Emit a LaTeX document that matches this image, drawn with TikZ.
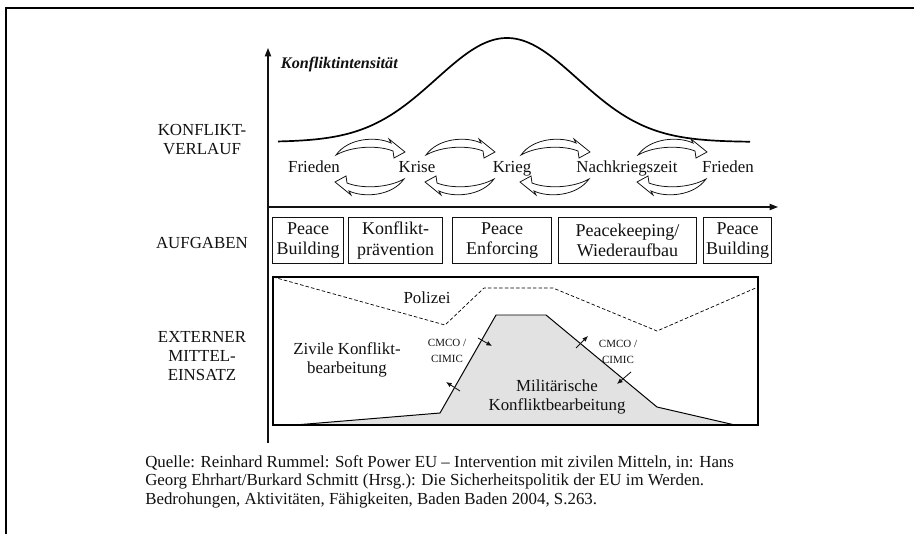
\documentclass[tikz,border=0pt]{standalone}
\usepackage{fontspec}
\setmainfont{Liberation Serif}
\usetikzlibrary{arrows.meta,positioning}
\definecolor{cmink}{HTML}{111111}
\definecolor{cmgray}{HTML}{E2E2E2}
\tikzset{
  cm text/.style={font=\fontsize{12}{14}\selectfont, text=cmink},
  cm axis/.style={-{Triangle[length=6pt,width=4.5pt]}, line width=0.9pt, draw=cmink},
  cm box/.style={draw=cmink, line width=0.7pt, minimum height=33pt, inner sep=0pt,
    align=center, font=\fontsize{12.8}{14.5}\selectfont},
  cm swoosh/.style={draw=cmink, line width=0.55pt, fill=white, line join=miter},
  cm hint/.style={-{Latex[length=4pt,width=3.4pt]}, line width=0.6pt, draw=cmink},
  cm small/.style={font=\fontsize{7.8}{11.5}\selectfont, align=center},
  cm label/.style={align=center, font=\fontsize{12}{13.5}\selectfont},
  cm phase/.style={anchor=base}
}
% zwei gegenlaeufige Pfeile zwischen den Phasen
\newcommand\cmswoosh[2]{%
  \begin{scope}[shift={(#1,#2)}]
    \path[cm swoosh] (-34,-12) .. controls (-22,-29) and (6,-31) .. (21,-24) -- (19,-28)
      -- (35,-15) -- (24,-9) -- (23,-16) .. controls (8,-22) and (-18,-21) .. cycle;
    \path[cm swoosh, rotate=180] (-34,-12) .. controls (-22,-29) and (6,-31) .. (21,-24) -- (19,-28)
      -- (35,-15) -- (24,-9) -- (23,-16) .. controls (8,-22) and (-18,-21) .. cycle;
  \end{scope}}

\begin{document}
\begin{tikzpicture}[cm text, x=0.025cm, y=-0.025cm]
  \useasboundingbox (0,0) rectangle (914,534);
  \draw[line width=1.3pt] (6,534) -- (6,8) -- (914,8);

  % Achsen
  \coordinate (origin) at (268,207);
  \coordinate (ytop) at (268,48);
  \coordinate (ybot) at (268,443);
  \coordinate (xend) at (778,207);
  \draw[cm axis] (ybot) -- (ytop);
  \draw[cm axis] (origin) -- (xend);

  % Zeilenbeschriftung
  \node[cm label] (verlauf) at (202,140) {KONFLIKT-\\VERLAUF};
  \node[cm label] (aufgaben) at (202,243) {AUFGABEN};
  \node[cm label] (einsatz) at (202,356) {EXTERNER\\MITTEL-\\EINSATZ};

  % Konfliktverlauf
  \node[font=\fontsize{11.5}{13}\selectfont\bfseries\itshape, anchor=west] (intens) at (276,65) {Konfliktintensität};
  \draw[line width=1.2pt] plot[domain=278:750, samples=90, smooth]
    (\x, {142-104*exp(-((\x-507)/100)*((\x-507)/100))});
  \cmswoosh{370}{167}
  \cmswoosh{460}{167}
  \cmswoosh{555}{167}
  \cmswoosh{672}{167}
  \node[cm phase] (frieden1) at (314,172) {Frieden};
  \node[cm phase] (krise) at (417,172) {Krise};
  \node[cm phase] (krieg) at (512,172) {Krieg};
  \node[cm phase] (nachkrieg) at (627,172) {Nachkriegszeit};
  \node[cm phase] (frieden2) at (728,172) {Frieden};

  % Aufgaben
  \node[cm box, minimum width=49.8pt] (pb1) at (308,240.5) {Peace\\Building};
  \node[cm box, minimum width=67.5pt] (kp) at (395.5,240.5) {Konflikt-\\prävention};
  \node[cm box, minimum width=71pt] (pe) at (502,240.5) {Peace\\Enforcing};
  \node[cm box, minimum width=98.8pt] (pk) at (627.5,240.5) {Peacekeeping/\\Wiederaufbau};
  \node[cm box, minimum width=49pt] (pb2) at (737.5,240.5) {Peace\\Building};

  % Externer Mitteleinsatz
  \fill[cmgray] (295,425) -- (440,413) -- (496,315) -- (546,315) -- (657,407) -- (735,425) -- cycle;
  \draw[line width=0.7pt] (295,425) -- (440,413) -- (496,315) -- (546,315) -- (657,407) -- (735,425);
  \draw[line width=0.5pt, dash pattern=on 2.5pt off 1.5pt] (273,277) -- (445,325) -- (484,288)
    -- (553,288) -- (657,331) -- (758,287);
  \draw[line width=0.8pt] (273,277) rectangle (758,425);
  \node (polizei) at (427,298) {Polizei};
  \node[align=center] (zivil) at (347,360) {Zivile Konflikt-\\bearbeitung};
  \node[align=center] (militaer) at (557,397) {Militärische\\Konfliktbearbeitung};
  \node[cm small] (cmco1) at (447,351) {CMCO /\\CIMIC};
  \node[cm small] (cmco2) at (618,352) {CMCO /\\CIMIC};
  \draw[cm hint] (478,338) -- (492,346);
  \draw[cm hint] (460,391) -- (446,382);
  \draw[cm hint] (576,348) -- (588,336);
  \draw[cm hint] (631,372) -- (617,384);

  % Quelle
  \node[anchor=north west, align=left, inner sep=0pt, font=\fontsize{12}{13.2}\selectfont] (quelle) at (145,455)
    {Quelle: Reinhard Rummel: Soft Power EU -- Intervention mit zivilen Mitteln, in: Hans\\
     Georg Ehrhart/Burkard Schmitt (Hrsg.): Die Sicherheitspolitik der EU im Werden.\\
     Bedrohungen, Aktivitäten, Fähigkeiten, Baden Baden 2004, S.263.};
\end{tikzpicture}
\end{document}
